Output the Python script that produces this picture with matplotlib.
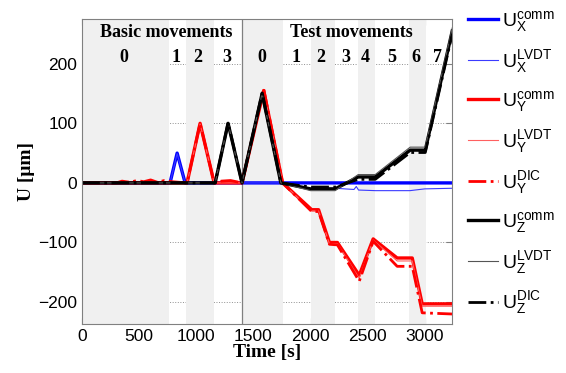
import matplotlib
matplotlib.use("Agg")
import matplotlib.pyplot as plt

plt.rcParams["font.family"] = ["Liberation Sans", "DejaVu Sans"]
plt.rcParams["mathtext.default"] = "regular"

# shaded movement phases (start, end) in s
spans = [(0, 762), (911, 1156), (1400, 1760), (2005, 2215), (2417, 2566), (2863, 3012)]
phase_split = 1400

basic_labels = ["0", "1", "2", "3"]
basic_pos = [368, 823, 1016, 1270]
test_labels = ["0", "1", "2", "3", "4", "5", "6", "7"]
test_pos = [1576, 1874, 2093, 2312, 2478, 2706, 2925, 3108]

# U_X
t_x_comm = [0, 770, 832, 902, 3240]
ux_comm = [0, 0, 50, 0, 0]
t_x_lvdt = [0, 770, 832, 902, 1760, 2000, 2215, 2380, 2400, 2420, 2570, 2870, 3000, 3240]
ux_lvdt = [0, 0, 49, 0, 0, -10, -9, -11, -6, -12, -13, -13, -10, -9]

# U_Y
t_y = [0, 919, 1033, 1156, 1400, 1590, 1755, 2010, 2070, 2165, 2235, 2426, 2548, 2758, 2890, 2977, 3240]
uy_comm = [0, 0, 100, 0, 0, 155, 0, -45, -45, -100, -100, -155, -94, -126, -126, -203, -203]
uy_lvdt = [0, 0, 99, 0, 0, 154, 0, -47, -47, -102, -102, -160, -96, -131, -131, -207, -207]
t_y_dic = [0, 300, 350, 420, 480, 540, 600, 660, 720, 790, 919, 1033, 1156, 1220, 1300, 1400,
           1590, 1755, 2010, 2070, 2165, 2235, 2426, 2548, 2758, 2890, 2977, 3240]
uy_dic = [0, 0, 3, 1, 4, 2, 5, 1, 4, 2, 0, 100, 0, 3, 4, 0,
          157, 0, -48, -48, -103, -104, -165, -98, -140, -140, -218, -220]

# U_Z
t_z = [0, 1165, 1278, 1400, 1576, 1740, 2000, 2215, 2417, 2566, 2872, 3004, 3240]
uz_comm = [0, 0, 100, 0, 150, 0, -10, -10, 10, 10, 55, 55, 255]
uz_lvdt = [0, 0, 100, 0, 150, 0, -13, -13, 14, 14, 60, 60, 260]
uz_dic = [0, 0, 101, 0, 151, 0, -7, -7, 6, 6, 51, 51, 250]

fig = plt.figure(figsize=(5.66, 3.73), dpi=100)
ax = fig.add_axes([0.145, 0.131, 0.654, 0.818])

for a, b in spans:
    ax.axvspan(a, b, color="#f0f0f0", lw=0)
ax.axvline(phase_split, color="#808080", lw=0.9)

ax.plot(t_x_comm, ux_comm, color="#0000ff", lw=2.4, label=r"$U_X^{comm}$")
ax.plot(t_x_lvdt, ux_lvdt, color="#3b3bff", lw=0.8, label=r"$U_X^{LVDT}$")
ax.plot(t_y, uy_comm, color="#ff0000", lw=2.4, label=r"$U_Y^{comm}$")
ax.plot(t_y, uy_lvdt, color="#ff6060", lw=0.8, label=r"$U_Y^{LVDT}$")
ax.plot(t_y_dic, uy_dic, color="#ff0000", lw=2.0, ls="-.", label=r"$U_Y^{DIC}$")
ax.plot(t_z, uz_comm, color="#000000", lw=2.4, label=r"$U_Z^{comm}$")
ax.plot(t_z, uz_lvdt, color="#555555", lw=0.8, label=r"$U_Z^{LVDT}$")
ax.plot(t_z, uz_dic, color="#000000", lw=2.0, ls="-.", label=r"$U_Z^{DIC}$")

ax.set_xlim(0, 3240)
ax.set_ylim(-237, 275)
ax.set_xticks([0, 500, 1000, 1500, 2000, 2500, 3000])
ax.set_yticks([-200, -100, 0, 100, 200])
ax.set_axisbelow(True)
ax.grid(True, ls=":", color="#909090", lw=0.7)
ax.tick_params(direction="in", top=True, right=True, labelsize=12.5, length=4, color="#808080")
for s in ax.spines.values():
    s.set_color("#808080")

serif = dict(family=["Liberation Serif", "DejaVu Serif"], weight="bold", fontsize=13)
ax.text(735, 252, "Basic movements", ha="center", va="center", **serif)
ax.text(2355, 252, "Test movements", ha="center", va="center", **serif)
for lab, p in zip(basic_labels, basic_pos):
    ax.text(p, 210, lab, ha="center", va="center", **serif)
for lab, p in zip(test_labels, test_pos):
    ax.text(p, 210, lab, ha="center", va="center", **serif)

ax.set_xlabel("Time [s]", family=["Liberation Serif", "DejaVu Serif"], weight="bold", fontsize=14, labelpad=0)
ax.set_ylabel("U [μm]", family=["Liberation Serif", "DejaVu Serif"], weight="bold", fontsize=14, labelpad=2)

fig.legend(loc="upper left", bbox_to_anchor=(0.827, 0.976), frameon=False, fontsize=14,
           handlelength=1.55, handletextpad=0.2, labelspacing=0.72,
           borderpad=0, borderaxespad=0)

fig.savefig("out.png", dpi=100)
